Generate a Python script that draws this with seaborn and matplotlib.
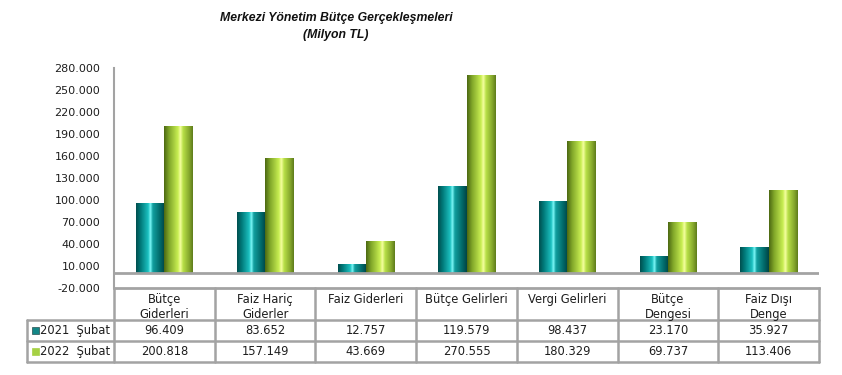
import numpy as np
import pandas as pd
import matplotlib
matplotlib.use("Agg")
import matplotlib.pyplot as plt
import seaborn as sns
from matplotlib.colors import LinearSegmentedColormap
from matplotlib.patches import Rectangle

# data (Milyon TL)
categories = ["Bütçe\nGiderleri", "Faiz Hariç\nGiderler", "Faiz Giderleri",
              "Bütçe Gelirleri", "Vergi Gelirleri", "Bütçe\nDengesi", "Faiz Dışı\nDenge"]
series_names = ["2021  Şubat", "2022  Şubat"]
values_2021 = [96409, 83652, 12757, 119579, 98437, 23170, 35927]
values_2022 = [200818, 157149, 43669, 270555, 180329, 69737, 113406]
y_ticks = list(range(-20000, 280001, 30000))

sns.set_theme(style="white")
plt.rcParams['font.family'] = ['DejaVu Sans']

df = pd.DataFrame({
    "kalem": categories * 2,
    "donem": [series_names[0]] * 7 + [series_names[1]] * 7,
    "deger": values_2021 + values_2022,
})

teal = "#138787"
green = "#a6d144"
line_col = "#a3a3a3"
txt_col = "#1e1e1e"

fig = plt.figure(figsize=(8.42, 3.75), dpi=100)
ax = fig.add_axes([114 / 842, 1 - 288 / 375, 705 / 842, 220 / 375])

sns.barplot(data=df, x="kalem", y="deger", hue="donem", palette=[teal, green],
            width=0.56, ax=ax, legend=False, saturation=1, linewidth=0)

# cylinder-like shading on each bar
cm_teal = LinearSegmentedColormap.from_list("t", [
    (0, "#004e4e"), (0.15, "#007777"), (0.42, "#1cc0c0"), (0.5, "#80fafa"),
    (0.58, "#12a0a0"), (0.85, "#006666"), (1, "#004444")])
cm_green = LinearSegmentedColormap.from_list("g", [
    (0, "#4c6812"), (0.18, "#82a82a"), (0.48, "#c8ee52"), (0.57, "#f5ffa0"),
    (0.66, "#b8e048"), (0.88, "#84a62c"), (1, "#5e7c1c")])
grad = np.linspace(0, 1, 128).reshape(1, -1)
for i, p in enumerate(ax.patches):
    cm = cm_teal if i < 7 else cm_green
    x0, w, h = p.get_x(), p.get_width(), p.get_height()
    im = ax.imshow(grad, cmap=cm, extent=[x0, x0 + w, 0, h], aspect="auto",
                   interpolation="bilinear", zorder=3)
    im.set_clip_path(p)

ax.set_xlim(-0.5, 6.5)
ax.set_ylim(-20000, 280000)
ax.set_yticks(y_ticks)
ax.set_yticklabels([f"{v:,}".replace(",", ".") for v in y_ticks], fontsize=8, color=txt_col)
ax.tick_params(axis="y", length=0, pad=10)
ax.set_xticks([])
ax.set_xlabel("")
ax.set_ylabel("")
for s in ["top", "right"]:
    ax.spines[s].set_visible(False)
ax.spines["left"].set_color(line_col)
ax.spines["left"].set_linewidth(1.5)
ax.spines["bottom"].set_color(line_col)
ax.spines["bottom"].set_linewidth(2)
ax.axhline(0, color=line_col, lw=2, zorder=4)

# data table below the chart
tr = ax.get_xaxis_transform()
legend_left = -0.5 - 87 / 100.7
row_y = [0, -0.1455, -0.241, -0.336]
for k in range(8):
    x = -0.5 + k
    ax.plot([x, x], [0, row_y[-1]], color=line_col, lw=1.8, transform=tr, clip_on=False)
ax.plot([legend_left, legend_left], [row_y[1], row_y[-1]], color=line_col, lw=1.8,
        transform=tr, clip_on=False)
for y in row_y[1:]:
    ax.plot([legend_left, 6.5], [y, y], color=line_col, lw=1.8, transform=tr, clip_on=False)

for i, cat in enumerate(categories):
    ax.text(i, -0.022, cat, ha="center", va="top", fontsize=8.3, color=txt_col,
            transform=tr, linespacing=1.2)
    ax.text(i, (row_y[1] + row_y[2]) / 2, f"{values_2021[i]:,}".replace(",", "."),
            ha="center", va="center", fontsize=8.3, color=txt_col, transform=tr)
    ax.text(i, (row_y[2] + row_y[3]) / 2, f"{values_2022[i]:,}".replace(",", "."),
            ha="center", va="center", fontsize=8.3, color=txt_col, transform=tr)

for j, (name, col) in enumerate(zip(series_names, [teal, green])):
    yc = (row_y[j + 1] + row_y[j + 2]) / 2
    ax.add_patch(Rectangle((legend_left + 0.05, yc - 0.016), 0.07, 0.032, facecolor=col,
                           edgecolor="#2a5050" if j == 0 else col, lw=0.5,
                           transform=tr, clip_on=False))
    ax.text(-0.54, yc, name, ha="right", va="center", fontsize=8.3, color=txt_col,
            transform=tr)

title_font = ['Liberation Sans', 'DejaVu Sans']
fig.text(336 / 842, 1 - 18 / 375, "Merkezi Yönetim Bütçe Gerçekleşmeleri",
         ha="center", va="center", fontsize=8.8, fontweight="bold", style="italic",
         family=title_font, color="#111111")
fig.text(336 / 842, 1 - 35 / 375, "(Milyon TL)",
         ha="center", va="center", fontsize=8.8, fontweight="bold", style="italic",
         family=title_font, color="#111111")

fig.savefig("out.png", dpi=100)
